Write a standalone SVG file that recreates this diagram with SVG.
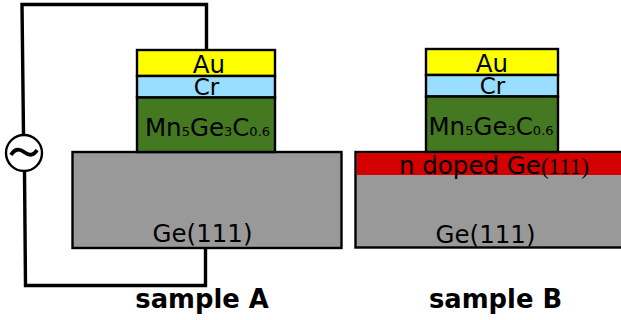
<svg xmlns="http://www.w3.org/2000/svg" width="621" height="320" viewBox="0 0 621 320">
<style>
.l{stroke:#000;stroke-width:2.4}
.t{font-family:"DejaVu Sans",sans-serif;fill:#000;text-anchor:middle}
.s{font-size:13px}
.b{font-size:25.800px;font-weight:700}
.w{fill:none;stroke:#000;stroke-width:3.4}
</style>
<g id="connectors">
<path class="w" d="M206.500 50V4.500H22L23.500 134"/>
<path class="w" d="M24.500 171L25.500 285.500H205.500V248"/>
</g>
<g id="sample-a-ge"><rect class="l" x="72.500" y="152" width="269" height="96" fill="#999"/><text class="t" x="202.500" y="241.500" font-size="24.500">Ge(111)</text></g>
<g id="sample-a-au"><rect class="l" x="137" y="50" width="138" height="26" fill="#ff0"/><text class="t" x="209" y="73" font-size="24.500">Au</text></g>
<g id="sample-a-cr"><rect class="l" x="137" y="76" width="138" height="21.500" fill="#9df"/><text class="t" x="206.500" y="95" font-size="23">Cr</text></g>
<g id="sample-a-mn"><rect class="l" x="137" y="97.500" width="138" height="54.500" fill="#447821"/><text class="t" x="207.500" y="136" font-size="24.500">Mn<tspan class="s">5</tspan>Ge<tspan class="s">3</tspan>C<tspan class="s">0.6</tspan></text></g>
<g id="source"><circle cx="24" cy="153" r="18" fill="#fff" stroke="#000" stroke-width="2.400"/><path d="M11 155C15 148 20 149 24 152S33 157 37 150" fill="none" stroke="#000" stroke-width="3.800"/></g>
<g id="sample-a-label"><text class="t b" x="202" y="308">sample A</text></g>
<g id="sample-b-ge"><rect class="l" x="355.500" y="152" width="270" height="95.500" fill="#999"/><text class="t" x="485.500" y="243" font-size="24.500">Ge(111)</text></g>
<g id="sample-b-doped"><rect x="357" y="153" width="264" height="22" fill="#d40000"/><text x="494" y="174" text-anchor="middle" font-size="24.500" font-family="'DejaVu Sans',sans-serif">n doped Ge<tspan font-family="'Liberation Serif',serif" font-size="23">(111)</tspan></text></g>
<g id="sample-b-au"><rect class="l" x="426" y="49" width="132" height="26" fill="#ff0"/><text class="t" x="492" y="72" font-size="24.500">Au</text></g>
<g id="sample-b-cr"><rect class="l" x="426" y="75" width="132" height="21.500" fill="#9df"/><text class="t" x="492.500" y="94" font-size="23">Cr</text></g>
<g id="sample-b-mn"><rect class="l" x="426" y="96.500" width="132" height="55.500" fill="#447821"/><text class="t" x="491" y="135" font-size="24.500">Mn<tspan class="s">5</tspan>Ge<tspan class="s">3</tspan>C<tspan class="s">0.6</tspan></text></g>
<g id="sample-b-label"><text class="t b" x="495.500" y="308">sample B</text></g>
</svg>
